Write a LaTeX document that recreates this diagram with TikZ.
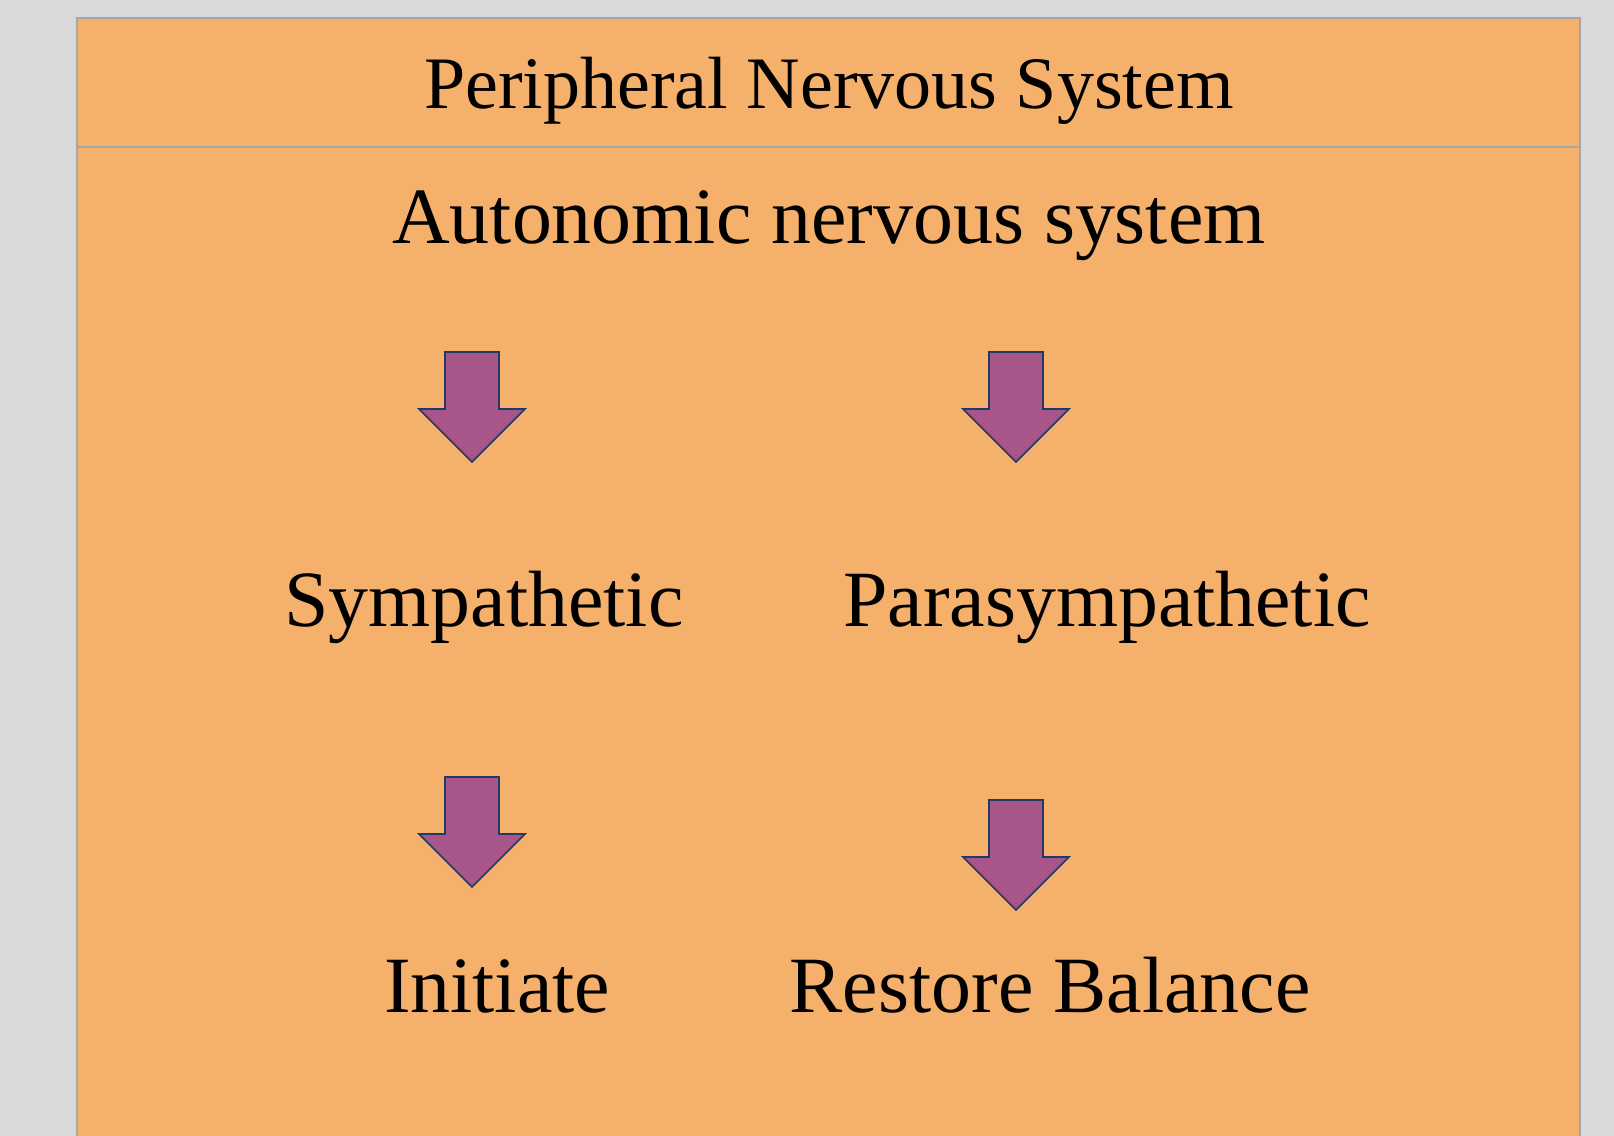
\documentclass[tikz,border=0pt]{standalone}
\usepackage{fontspec}
\setmainfont{Liberation Serif}
\usepackage{xcolor}
\definecolor{panelorange}{HTML}{F5B06B}
\definecolor{panelgrey}{HTML}{D9D9D9}
\definecolor{rulegrey}{HTML}{A6A6A6}
\definecolor{arrowplum}{HTML}{A8558A}
\definecolor{arrowedge}{HTML}{1F3A64}
\usepackage{tikz}

\tikzset{
  label/.style={anchor=base,inner sep=0pt,font=\fontsize{39.9}{47}\selectfont},
  titlelabel/.style={label,font=\fontsize{37}{44}\selectfont},
  arrowfill/.style={fill=arrowplum,draw=arrowedge,line width=0.8pt,line join=miter},
  downarr/.pic={
    \draw[arrowfill] (-27,0) -- (27,0) -- (27,57) -- (53,57) -- (0,110)
      -- (-53,57) -- (-27,57) -- cycle;
  }
}

\begin{document}
\begin{tikzpicture}[x=0.5pt,y=-0.5pt]
\useasboundingbox (0,0) rectangle (1614,1136);
\clip (0,0) rectangle (1614,1136);

% Slide background and panel
\fill[panelgrey] (0,0) rectangle (1614,1136);
\draw[fill=panelorange,draw=rulegrey,line width=1pt] (77,18) rectangle (1580,1150);
\draw[rulegrey,line width=1pt] (77,147) -- (1580,147);

% Header
\node[titlelabel] (pns) at (829,108) {Peripheral Nervous System};
\node[label] (ans) at (829,243) {Autonomic nervous system};

% First row of arrows
\pic at (472,352) {downarr};
\pic at (1016,352) {downarr};

% Branches
\node[label] (symp) at (484,626) {Sympathetic};
\node[label] (para) at (1107,626) {Parasympathetic};

% Second row of arrows
\pic at (472,777) {downarr};
\pic at (1016,800) {downarr};

% Effects
\node[label] (init) at (497,1012) {Initiate};
\node[label] (rest) at (1050,1012) {Restore Balance};
\end{tikzpicture}
\end{document}
